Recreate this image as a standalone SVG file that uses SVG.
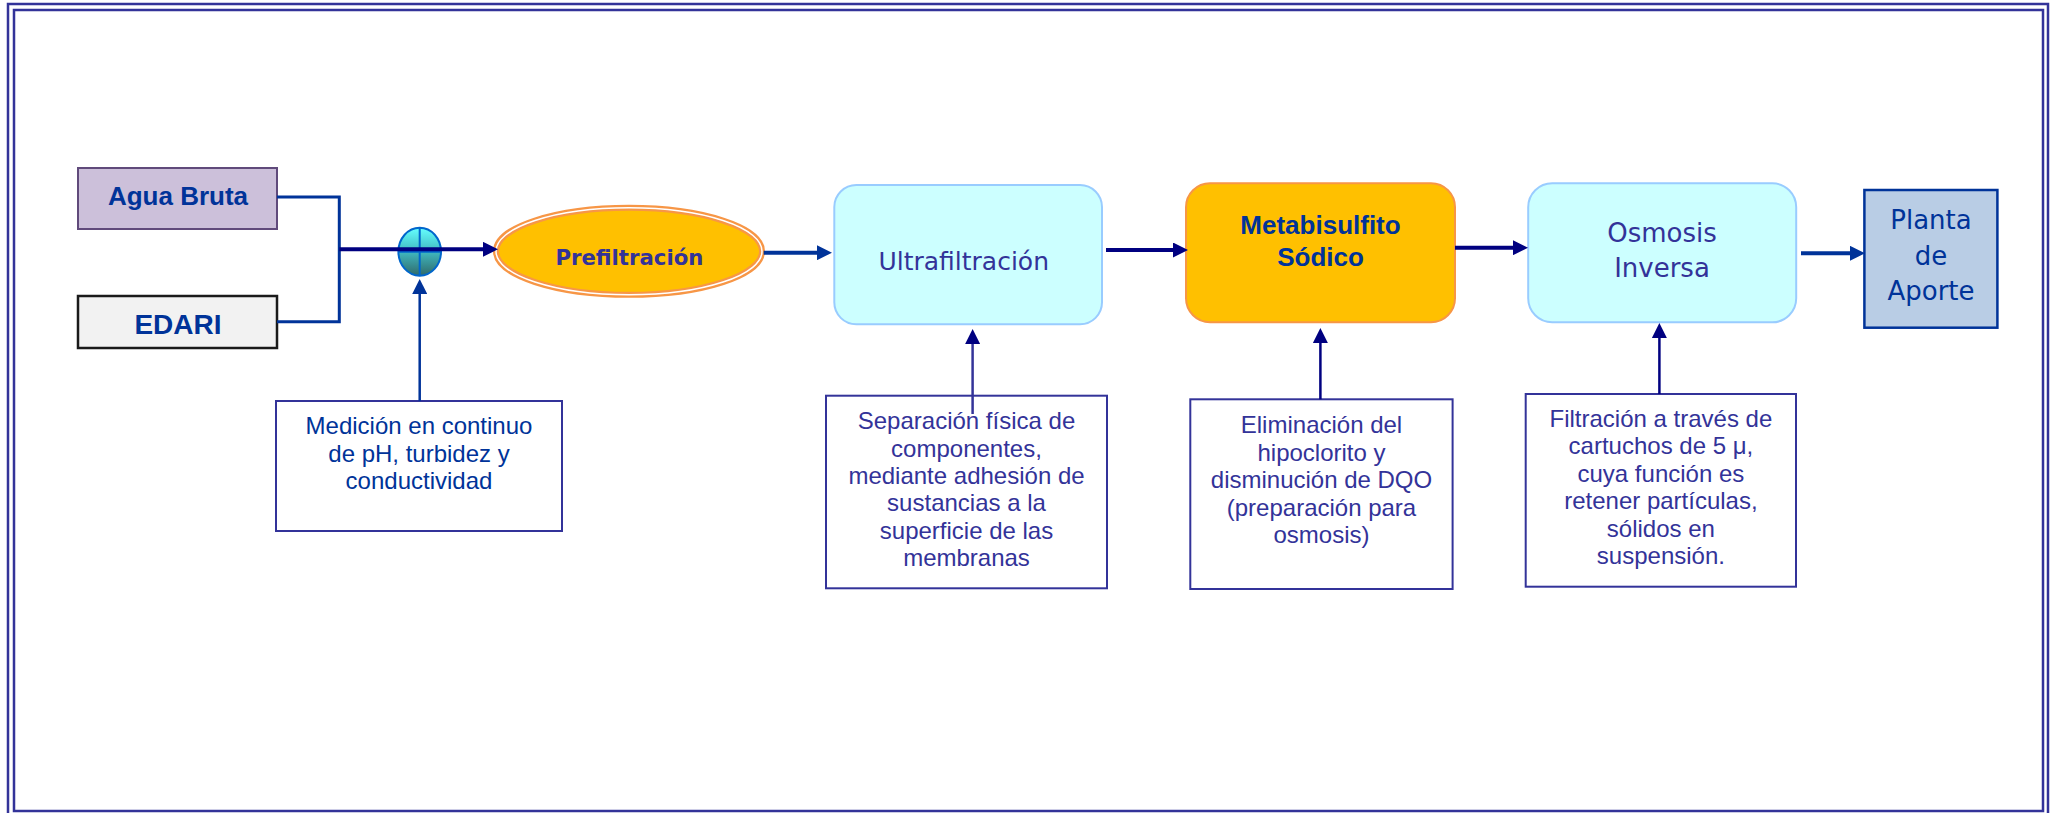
<svg xmlns="http://www.w3.org/2000/svg" width="2053" height="813" viewBox="0 0 2053 813">
<defs>
<marker id="ahNavy" markerUnits="userSpaceOnUse" markerWidth="15" markerHeight="15" refX="2" refY="7.5" orient="auto"><path d="M0,0 L15,7.5 L0,15 z" fill="#000080"/></marker>
<marker id="ahBlue" markerUnits="userSpaceOnUse" markerWidth="15" markerHeight="15" refX="2" refY="7.5" orient="auto"><path d="M0,0 L15,7.5 L0,15 z" fill="#003399"/></marker>
<linearGradient id="gCirc" x1="0" y1="0" x2="0" y2="1"><stop offset="0" stop-color="#66FFFF"/><stop offset="0.5" stop-color="#40B8C0"/><stop offset="1" stop-color="#2F6A6A"/></linearGradient>
<style>
.frame{fill:none;stroke:#333399;stroke-width:2.5}
.proc{font-family:"DejaVu Sans",Verdana,sans-serif;fill:#333399;text-anchor:middle}
.bold{font-family:"Liberation Sans",Arial,sans-serif;font-weight:bold;fill:#003399;text-anchor:middle}
.desc{font-family:"Liberation Sans",Arial,sans-serif;font-size:24px;fill:#333399;text-anchor:middle}
.descbox{fill:#FFFFFF;stroke:#333399;stroke-width:2}
.cyan{fill:#CCFFFF;stroke:#99CCFF;stroke-width:2}
.conn{fill:none;stroke-linejoin:miter}
</style>
</defs>
<rect width="2053" height="813" fill="#FFFFFF"/>
<rect class="frame" x="8" y="4" width="2040" height="830"/>
<rect class="frame" x="14" y="10" width="2029" height="801"/>

<g id="agua-bruta">
<rect x="78" y="168" width="199" height="61" fill="#CCC0DA" stroke="#604A7B" stroke-width="2"/>
<text class="bold" x="178" y="205" font-size="26">Agua Bruta</text>
</g>
<g id="edari">
<rect x="78" y="296" width="199" height="52" fill="#F2F2F2" stroke="#1A1A1A" stroke-width="2.5"/>
<text class="bold" x="178" y="334" font-size="28">EDARI</text>
</g>

<g id="medidor">
<ellipse cx="419.7" cy="251.7" rx="21.3" ry="24" fill="url(#gCirc)" stroke="#0066CC" stroke-width="2"/>
<line x1="419.7" y1="227.7" x2="419.7" y2="275.7" stroke="#0066CC" stroke-width="2"/>
<line x1="398.4" y1="251.7" x2="441" y2="251.7" stroke="#0066CC" stroke-width="2"/>
</g>

<g id="medicion">
<rect class="descbox" x="276" y="401" width="286" height="130" stroke="#003399"/>
<text class="desc" fill="#003399" style="fill:#003399"><tspan x="419" y="434">Medición en continuo</tspan><tspan x="419" y="461.7">de pH, turbidez y</tspan><tspan x="419" y="489">conductividad</tspan></text>
</g>

<g id="prefiltracion">
<ellipse cx="629" cy="251.3" rx="133" ry="43.5" fill="#FFC000" stroke="#F79646" stroke-width="6"/>
<ellipse cx="629" cy="251.3" rx="133" ry="43.5" fill="none" stroke="#FFFFFF" stroke-width="1.5"/>
<text class="proc" x="629.4" y="265" font-size="22" font-weight="bold" textLength="148" lengthAdjust="spacingAndGlyphs">Prefiltración</text>
</g>

<g id="ultrafiltracion">
<rect class="cyan" x="834.3" y="185" width="267.7" height="139.3" rx="22" ry="22"/>
<text class="proc" x="963.7" y="270" font-size="25">Ultrafiltración</text>
</g>

<g id="metabisulfito">
<rect x="1186" y="183.3" width="269" height="139" rx="24" ry="24" fill="#FFC000" stroke="#F79646" stroke-width="2"/>
<text class="bold" font-size="26"><tspan x="1320.5" y="234">Metabisulfito</tspan><tspan x="1320.5" y="266">Sódico</tspan></text>
</g>

<g id="osmosis">
<rect class="cyan" x="1528.2" y="183.3" width="268" height="139" rx="24" ry="24"/>
<text class="proc" font-size="26"><tspan x="1662" y="241.7">Osmosis</tspan><tspan x="1662" y="277.3">Inversa</tspan></text>
</g>

<g id="planta-aporte">
<rect x="1864.4" y="190" width="133" height="137.7" fill="#B9CDE5" stroke="#003399" stroke-width="2.5"/>
<text class="proc" font-size="26" style="fill:#003399"><tspan x="1931" y="229.3">Planta</tspan><tspan x="1931" y="265">de</tspan><tspan x="1931" y="300">Aporte</tspan></text>
</g>

<g id="separacion">
<rect class="descbox" x="826" y="395.7" width="281" height="192.6"/>
<text class="desc"><tspan x="966.5" y="429.3">Separación física de</tspan><tspan x="966.5" y="456.7">componentes,</tspan><tspan x="966.5" y="484">mediante adhesión de</tspan><tspan x="966.5" y="511.3">sustancias a la</tspan><tspan x="966.5" y="538.7">superficie de las</tspan><tspan x="966.5" y="566">membranas</tspan></text>
</g>

<g id="eliminacion">
<rect class="descbox" x="1190.3" y="399.3" width="262.3" height="189.7"/>
<text class="desc"><tspan x="1321.5" y="433.3">Eliminación del</tspan><tspan x="1321.5" y="461">hipoclorito y</tspan><tspan x="1321.5" y="488.3">disminución de DQO</tspan><tspan x="1321.5" y="516">(preparación para</tspan><tspan x="1321.5" y="543.3">osmosis)</tspan></text>
</g>

<g id="filtracion">
<rect class="descbox" x="1525.7" y="394" width="270.3" height="192.7"/>
<text class="desc"><tspan x="1660.9" y="426.7">Filtración a través de</tspan><tspan x="1660.9" y="454">cartuchos de 5 μ,</tspan><tspan x="1660.9" y="481.7">cuya función es</tspan><tspan x="1660.9" y="509">retener partículas,</tspan><tspan x="1660.9" y="536.7">sólidos en</tspan><tspan x="1660.9" y="564.3">suspensión.</tspan></text>
</g>

<g id="connectors">
<path class="conn" d="M277,197 H339.3 V321.7 H277" stroke="#003399" stroke-width="3"/>
<path class="conn" d="M339.3,249.3 H485" stroke="#000080" stroke-width="4" marker-end="url(#ahNavy)"/>
<path class="conn" d="M419.7,401 V292" stroke="#003399" stroke-width="2.5" marker-end="url(#ahBlue)"/>
<path class="conn" d="M763.7,252.7 H819" stroke="#003399" stroke-width="4" marker-end="url(#ahBlue)"/>
<path class="conn" d="M1106,250 H1175" stroke="#000080" stroke-width="4" marker-end="url(#ahNavy)"/>
<path class="conn" d="M1455,247.7 H1515" stroke="#000080" stroke-width="4" marker-end="url(#ahNavy)"/>
<path class="conn" d="M1801,253.3 H1852" stroke="#003399" stroke-width="4" marker-end="url(#ahBlue)"/>
<path class="conn" d="M972.6,414 V342" stroke="#333399" stroke-width="2.5" marker-end="url(#ahNavy)"/>
<path class="conn" d="M1320.4,399.3 V341" stroke="#000080" stroke-width="2.5" marker-end="url(#ahNavy)"/>
<path class="conn" d="M1659.4,394 V336" stroke="#000080" stroke-width="2.5" marker-end="url(#ahNavy)"/>
</g>
</svg>
